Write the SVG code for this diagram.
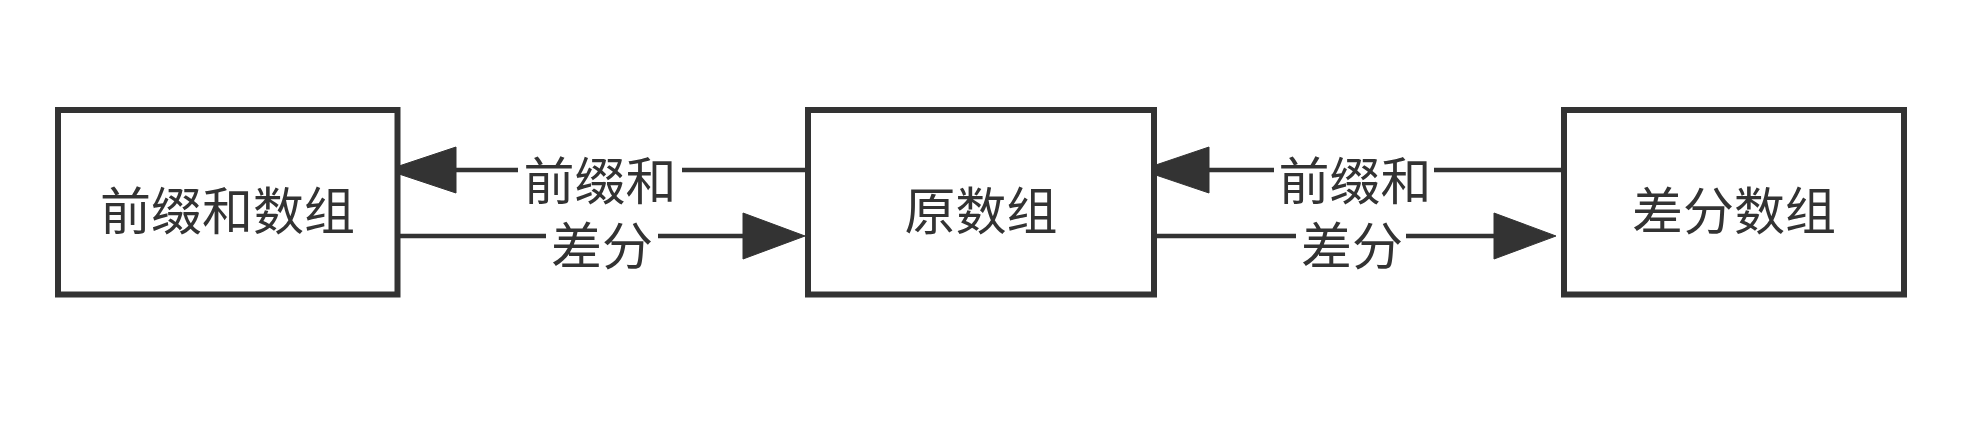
<svg xmlns="http://www.w3.org/2000/svg" width="1975" height="428" viewBox="0 0 1975 428">
<style>
.box{fill:#ffffff;stroke:#333333;stroke-width:6}
.line{fill:none;stroke:#333333;stroke-width:4.5}
.head{fill:#333333;stroke:#333333;stroke-width:1}
.lbl{fill:#ffffff;stroke:none}
text{font-family:"Noto Sans CJK SC","Noto Sans",sans-serif;font-size:51px;fill:#333333;text-anchor:middle}
</style>
<rect width="1975" height="428" fill="#ffffff"/>
<g id="connectors">
  <g id="e1">
    <line class="line" x1="808" y1="170" x2="454" y2="170"/>
    <polygon class="head" points="387,170 456,147 456,193"/>
    <rect class="lbl" x="518" y="150" width="164" height="40"/>
    <text x="600" y="200">前缀和</text>
  </g>
  <g id="e2">
    <line class="line" x1="397" y1="236" x2="745" y2="236"/>
    <polygon class="head" points="805,236 743,213 743,259"/>
    <rect class="lbl" x="546" y="216" width="112" height="40"/>
    <text x="602" y="265">差分</text>
  </g>
  <g id="e3">
    <line class="line" x1="1564" y1="170" x2="1207" y2="170"/>
    <polygon class="head" points="1141,170 1209,147 1209,193"/>
    <rect class="lbl" x="1274" y="150" width="160" height="40"/>
    <text x="1355" y="200">前缀和</text>
  </g>
  <g id="e4">
    <line class="line" x1="1148" y1="236" x2="1496" y2="236"/>
    <polygon class="head" points="1556,236 1494,213 1494,259"/>
    <rect class="lbl" x="1296" y="216" width="110" height="40"/>
    <text x="1352" y="265">差分</text>
  </g>
</g>
<g id="prefix">
  <rect class="box" x="58" y="110" width="339.5" height="184.5"/>
  <text x="227.5" y="230">前缀和数组</text>
</g>
<g id="original">
  <rect class="box" x="808" y="110" width="346" height="184.5"/>
  <text x="981" y="230">原数组</text>
</g>
<g id="diff">
  <rect class="box" x="1564" y="110" width="340" height="184.5"/>
  <text x="1734" y="230">差分数组</text>
</g>
</svg>
